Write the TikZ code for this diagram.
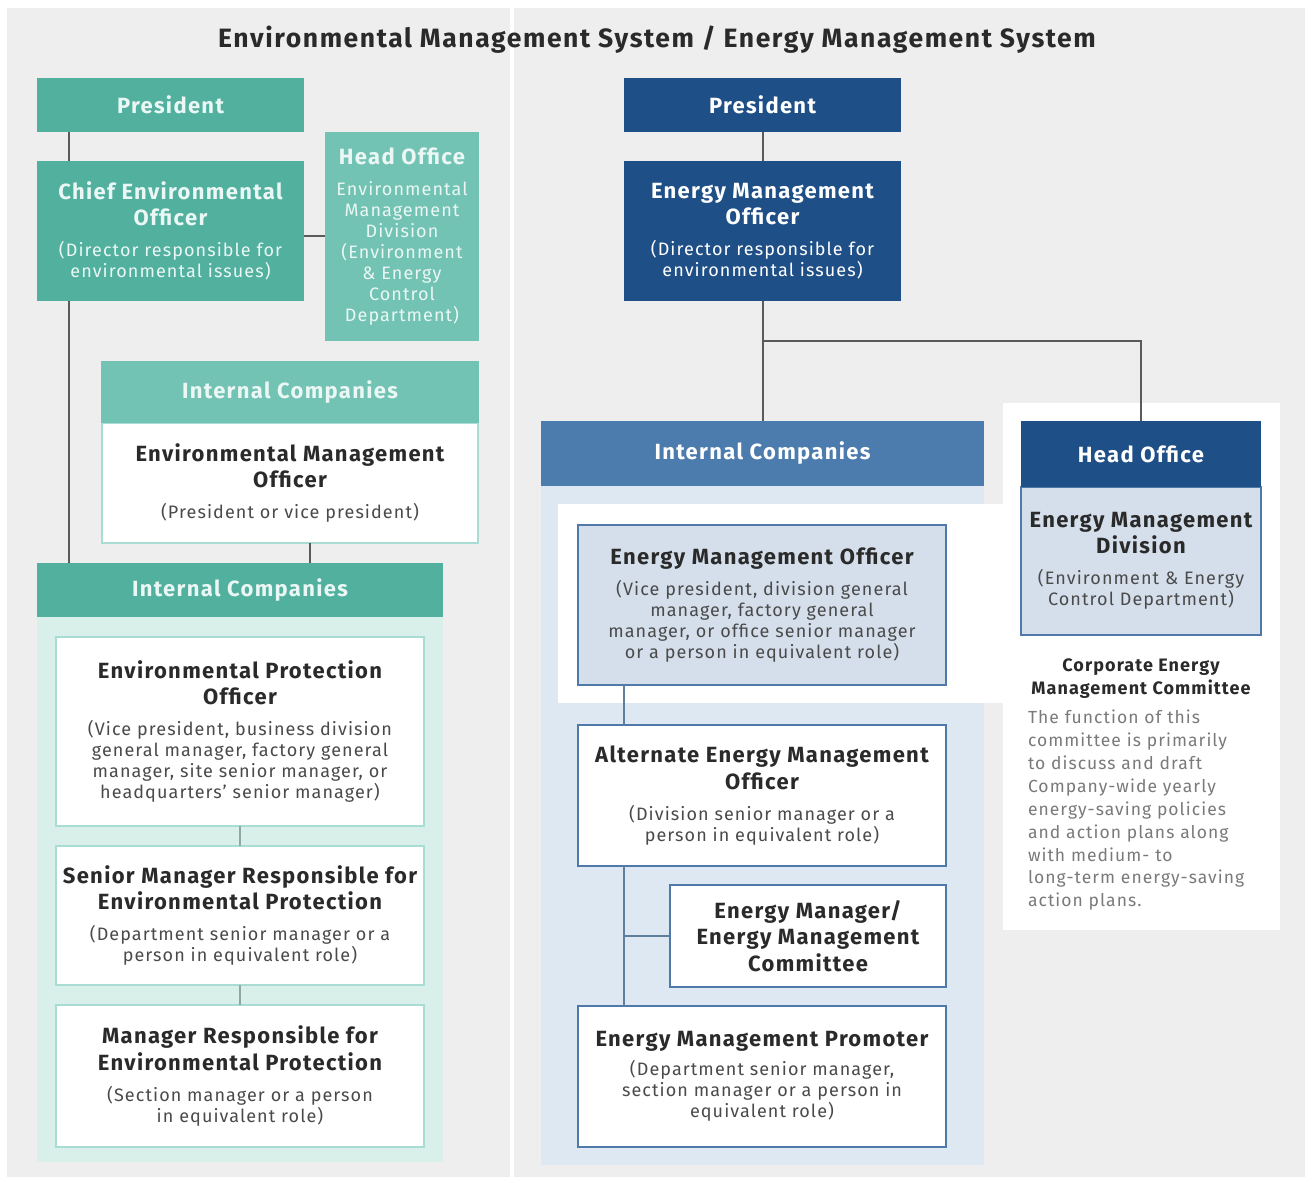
\documentclass[tikz,border=0pt]{standalone}
\usepackage{fontspec}
\setmainfont{Fira Sans}[LetterSpace=6]
\definecolor{bgG}{HTML}{EEEEEE}
\definecolor{tealD}{HTML}{52B09F}
\definecolor{tealL}{HTML}{73C3B4}
\definecolor{tealT}{HTML}{EAF7F4}
\definecolor{tealB}{HTML}{A9DCD2}
\definecolor{tealBg}{HTML}{D9EFEA}
\definecolor{blueD}{HTML}{1F4F87}
\definecolor{blueM}{HTML}{4C7BAD}
\definecolor{blueB}{HTML}{4E79A8}
\definecolor{blueF}{HTML}{D4DFEB}
\definecolor{blueBg}{HTML}{DDE8F3}
\definecolor{txtD}{HTML}{2A2A2A}
\definecolor{txtS}{HTML}{4A4A4A}
\definecolor{txtC}{HTML}{7A7A7A}
\definecolor{lineG}{HTML}{5A5A5A}
\definecolor{lineT}{HTML}{8FA8A3}
\definecolor{lineB}{HTML}{5F7F9F}
\newcommand\hdf{\fontsize{22}{26.5}\selectfont\bfseries\spaceskip=0pt\xspaceskip=0pt\relax}
\newcommand\sbf{\fontsize{18}{21}\selectfont\spaceskip=0pt\xspaceskip=0pt\relax}
\newcommand\ttlf{\fontsize{26.5}{30}\selectfont\bfseries}
\begin{document}
\begin{tikzpicture}[x=1pt,y=-1pt,
  base/.style={rectangle, inner sep=0pt, outer sep=0pt, align=flush center},
  tealbox/.style={base, fill=tealD, text=tealT},
  tealboxL/.style={base, fill=tealL, text=tealT},
  wboxT/.style={base, fill=white, draw=tealB, line width=2pt, text=txtD},
  bluebox/.style={base, fill=blueD, text=white},
  blueboxM/.style={base, fill=blueM, text=white},
  wboxB/.style={base, fill=white, draw=blueB, line width=1.6pt, text=txtD},
  gboxB/.style={base, fill=blueF, draw=blueB, line width=1.6pt, text=txtD},
  conn/.style={draw=lineG, line width=2pt},
  connT/.style={draw=lineT, line width=2.5pt},
  connB/.style={draw=lineB, line width=2pt},
  sz/.style n args={2}{minimum width=#1pt, text width=#1pt, minimum height=#2pt}
]
\useasboundingbox (0,0) rectangle (1305,1182);
\fill[white] (0,0) rectangle (1305,1182);
\fill[bgG] (7,8) rectangle (1305,1177);
\fill[white] (510,8) rectangle (514,1177);

\node[font=\ttlf, text=txtD] (title) at (657,40) {Environmental Management System / Energy Management System};

% ---------------- left: environmental management -----------------
\fill[tealBg] (37,617) rectangle (443,1162);

\node[tealbox, sz={267}{54}] (PL) at (170.5,105) {\hdf President};
\node[tealbox, sz={267}{140}] (CEO) at (170.5,231)
  {{\hdf Chief Environmental\\Officer\par}\vskip10pt{\sbf (Director responsible for\\environmental issues)\par}};
\node[tealboxL, sz={154}{209}] (HOL) at (402,236.5)
  {{\hdf Head Office\par}\vskip10pt{\sbf Environmental\\Management\\Division\\(Environment\\\& Energy\\Control\\Department)\par}};
\node[wboxT, sz={376}{120}] (EMOL) at (290,483)
  {{\hdf Environmental Management\\Officer\par}\vskip10pt{\sbf\color{txtS}(President or vice president)\par}};
\node[tealboxL, sz={378}{62}] (ICL1) at (290,392) {\hdf Internal Companies};
\node[tealbox, sz={406}{54}] (ICL2) at (240,590) {\hdf Internal Companies};

\node[wboxT, sz={368}{189}] (EPO) at (240,731.5)
  {{\hdf Environmental Protection\\Officer\par}\vskip10pt{\sbf\color{txtS}(Vice president, business division\\general manager, factory general\\manager, site senior manager, or\\headquarters' senior manager)\par}};
\node[wboxT, sz={368}{139}] (SMR) at (240,915.5)
  {{\hdf Senior Manager Responsible for\\Environmental Protection\par}\vskip10pt{\sbf\color{txtS}(Department senior manager or a\\person in equivalent role)\par}};
\node[wboxT, sz={368}{142}] (MR) at (240,1076)
  {{\hdf Manager Responsible for\\Environmental Protection\par}\vskip10pt{\sbf\color{txtS}(Section manager or a person\\in equivalent role)\par}};

\draw[conn] ([xshift=32pt]PL.south west) -- ([xshift=32pt]CEO.north west);
\draw[conn] ([xshift=32pt]CEO.south west) -- ([xshift=32pt]ICL2.north west);
\draw[conn] ([yshift=-5pt]CEO.east) -- ([yshift=-5pt]CEO.east -| HOL.west);
\draw[conn] ([xshift=20pt]EMOL.south) -- ([xshift=20pt]EMOL.south |- ICL2.north);
\draw[connT] (EPO.south) -- (SMR.north);
\draw[connT] (SMR.south) -- (MR.north);

% ---------------- right: energy management -----------------
\fill[blueBg] (541,486) rectangle (984,1165);
\fill[white] (558,504) rectangle (1003,703);
\fill[white] (1003,403) rectangle (1280,930);

\node[bluebox, sz={277}{54}] (PR) at (762.5,105) {\hdf President};
\node[bluebox, sz={277}{140}] (EMOT) at (762.5,231)
  {{\hdf Energy Management\\Officer\par}\vskip10pt{\sbf (Director responsible for\\environmental issues)\par}};
\node[blueboxM, sz={443}{65}] (ICR) at (762.5,453.5) {\hdf Internal Companies};
\node[gboxB, sz={240}{148}] (HORB) at (1141,561)
  {{\hdf Energy Management\\Division\par}\vskip10pt{\sbf\color{txtS}(Environment \& Energy\\Control Department)\par}};
\node[bluebox, sz={240}{66}] (HOR) at (1141,454) {\hdf Head Office};

\node[gboxB, sz={368}{160}] (EMOI) at (762,605)
  {{\hdf Energy Management Officer\par}\vskip10pt{\sbf\color{txtS}(Vice president, division general\\manager, factory general\\manager, or office senior manager\\or a person in equivalent role)\par}};
\node[wboxB, sz={368}{141}] (AEMO) at (762,795.5)
  {{\hdf Alternate Energy Management\\Officer\par}\vskip10pt{\sbf\color{txtS}(Division senior manager or a\\person in equivalent role)\par}};
\node[wboxB, sz={276}{102}] (EMEMC) at (808,936)
  {{\hdf Energy Manager/\\Energy Management\\Committee\par}};
\node[wboxB, sz={368}{141}] (EMP) at (762,1076.5)
  {{\hdf Energy Management Promoter\par}\vskip8pt{\sbf\color{txtS}(Department senior manager,\\section manager or a person in\\equivalent role)\par}};

\node[base, text=txtD, font=\fontsize{18}{23}\selectfont\bfseries] (CEMC) at (1141,679)
  {Corporate Energy\\Management Committee};
\node[base, anchor=north west, text width=250pt, align=left, text=txtC,
      font=\fontsize{17.5}{22.9}\selectfont] (CEMT) at (1028,710)
  {The function of this\\committee is primarily\\to discuss and draft\\Company-wide yearly\\energy-saving policies\\and action plans along\\with medium- to\\long-term energy-saving\\action plans.};

\coordinate (jR) at (762.5,341);
\coordinate (ax) at (624,0);
\draw[conn] (PR.south) -- (EMOT.north);
\draw[conn] (EMOT.south) -- (ICR.north);
\draw[conn] (jR) -| (HOR.north);
\draw[connB] (EMOI.south -| ax) -- (AEMO.north -| ax);
\draw[connB] (AEMO.south -| ax) -- (EMP.north -| ax);
\draw[connB] (EMEMC.west -| ax) -- (EMEMC.west);
\end{tikzpicture}
\end{document}
